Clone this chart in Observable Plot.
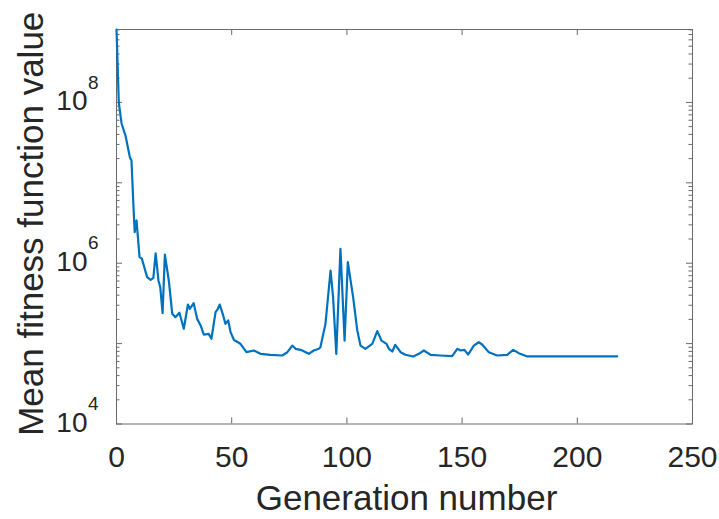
<!DOCTYPE html>
<html>
<head>
<meta charset="utf-8">
<script src="https://cdn.jsdelivr.net/npm/d3@7"></script>
<script src="https://cdn.jsdelivr.net/npm/@observablehq/plot@0.6"></script>
<style>
  html, body { margin: 0; padding: 0; background: #fff; }
  #chart { width: 719px; height: 519px; }
</style>
</head>
<body>
<div id="chart"></div>
<script>
// ---- data ----
const generations = [0, 1, 2.2, 3.9, 5.8, 6.5, 7.5, 7.9, 8.7, 10, 11, 13.3, 14.8, 16, 17, 18.2, 19, 20, 21, 22.7,
  24.2, 25.6, 27.3, 29.2, 31, 31.8, 33.5, 35, 36.5, 37.9, 40, 41.2, 43, 44, 44.8, 46.3, 47.3, 48.5, 49.5, 51,
  53.8, 56.4, 59.6, 62.5, 66.8, 71.9, 74, 76.3, 77.7, 79.9, 83.5, 85.6, 87.8, 88.5, 90.7, 92.9, 94, 95.4, 97.2, 99,
  100.4, 102.7, 104.5, 105.9, 108, 111, 113.2, 115, 117.2, 118.2, 119.7, 121, 123.3, 125.4, 128.8, 131.2, 133.4, 136.3, 140.6, 145.7,
  147.9, 149.3, 151, 152.6, 155.1, 157.2, 158.7, 161.6, 165.2, 169.6, 172.2, 174.6, 178.3, 217.3];
const meanFitness = [8.07e8, 1.0e8, 5.47e7, 3.87e7, 2.08e7, 1.89e7, 4.15e6, 2.43e6, 3.40e6, 1.19e6, 1.14e6, 6.70e5, 6.22e5, 6.58e5, 1.33e6, 6.10e5, 5.02e5, 2.39e5, 1.28e6, 6.10e5,
  2.35e5, 2.13e5, 2.42e5, 1.53e5, 3.06e5, 2.71e5, 3.18e5, 2.03e5, 1.68e5, 1.29e5, 1.32e5, 1.15e5, 2.46e5, 2.71e5, 3.06e5, 2.24e5, 1.76e5, 1.94e5, 1.39e5, 1.11e5,
  9.94e4, 7.82e4, 8.21e4, 7.46e4, 7.26e4, 7.11e4, 7.74e4, 9.46e4, 8.61e4, 8.37e4, 7.46e4, 8.21e4, 8.61e4, 9.02e4, 1.76e5, 8.11e5, 3.78e5, 7.46e4, 1.51e6, 1.09e5,
  1.03e6, 3.78e5, 1.46e5, 9.46e4, 8.61e4, 9.94e4, 1.43e5, 1.09e5, 9.94e4, 8.61e4, 7.98e4, 9.66e4, 7.82e4, 7.26e4, 6.92e4, 7.46e4, 8.21e4, 7.26e4, 7.11e4, 6.97e4,
  8.61e4, 8.21e4, 8.37e4, 7.31e4, 9.46e4, 1.04e5, 9.75e4, 7.82e4, 7.11e4, 7.26e4, 8.37e4, 7.60e4, 6.92e4, 6.92e4];

const xTicks = [0, 50, 100, 150, 200, 250];
const xTickLabels = ["0", "50", "100", "150", "200", "250"];
const yDecades = [1e4, 1e5, 1e6, 1e7, 1e8];
const yMinorMultipliers = [2, 3, 4, 5, 6, 7, 8, 9];
const yLabelValues = [1e4, 1e6, 1e8];
const yLabelExponents = ["4", "6", "8"];
const xDomain = [0, 250];
const yDomain = [1e4, 8.07e8];
const xTitle = "Generation number";
const yTitle = "Mean fitness function value";

// ---- build tables ----
const series = generations.map((g, i) => ({gen: g, value: meanFitness[i]}));
const yMinor = [];
for (const d of yDecades) for (const m of yMinorMultipliers) if (d * m <= yDomain[1]) yMinor.push(d * m);
const xTickRows = xTicks.map((v, i) => ({v, label: xTickLabels[i]}));
const yLabelRows = yLabelValues.map((v, i) => ({v, e: yLabelExponents[i]}));

const W = 719, H = 519;
const mL = 116, mR = 27, mT = 29, mB = 95.5;
const FW = W - mL - mR, FH = H - mT - mB;
const axisColor = "#6a6a6a";
const textColor = "#262626";
const font = "Liberation Sans, Arial, Helvetica, sans-serif";

const chart = Plot.plot({
  width: W,
  height: H,
  marginLeft: mL, marginRight: mR, marginTop: mT, marginBottom: mB,
  style: {background: "#fff", fontFamily: font, color: textColor},
  x: {domain: xDomain, axis: null},
  y: {type: "log", domain: yDomain, axis: null},
  marks: [
    // major x ticks, bottom and top (inward)
    Plot.ruleX(xTicks, {x: d => d, insetTop: FH - 6, stroke: axisColor, strokeWidth: 1}),
    Plot.ruleX(xTicks, {x: d => d, insetBottom: FH - 6, stroke: axisColor, strokeWidth: 1}),
    // y major ticks left/right
    Plot.ruleY(yDecades, {y: d => d, insetRight: FW - 6, stroke: axisColor, strokeWidth: 1}),
    Plot.ruleY(yDecades, {y: d => d, insetLeft: FW - 6, stroke: axisColor, strokeWidth: 1}),
    // y minor ticks
    Plot.ruleY(yMinor, {y: d => d, insetRight: FW - 3.5, stroke: axisColor, strokeWidth: 1}),
    Plot.ruleY(yMinor, {y: d => d, insetLeft: FW - 3.5, stroke: axisColor, strokeWidth: 1}),
    Plot.frame({stroke: axisColor, strokeWidth: 1}),
    // data
    Plot.line(series, {x: "gen", y: "value", stroke: "#0072BD", strokeWidth: 2.2, strokeLinejoin: "round"}),
    // x tick labels
    Plot.text(xTickRows, {x: "v", text: "label", frameAnchor: "bottom", lineAnchor: "top", dy: 22, fontSize: 30, fill: textColor}),
    // y tick labels: base and exponent
    Plot.text(yLabelRows, {y: "v", text: () => "10", frameAnchor: "left", textAnchor: "end", lineAnchor: "middle", dx: -29, dy: -1, fontSize: 28, fill: textColor}),
    Plot.text(yLabelRows, {y: "v", text: "e", frameAnchor: "left", textAnchor: "start", lineAnchor: "middle", dx: -28.5, dy: -20, fontSize: 19, fill: textColor}),
    // axis titles
    Plot.text([xTitle], {frameAnchor: "bottom", textAnchor: "middle", lineAnchor: "middle", dy: 75, dx: 2, fontSize: 35, fill: textColor}),
    Plot.text([yTitle], {frameAnchor: "left", textAnchor: "middle", rotate: -90, lineAnchor: "middle", dx: -85, dy: -3, fontSize: 35, fill: textColor})
  ]
});
document.getElementById("chart").appendChild(chart);
</script>
</body>
</html>
